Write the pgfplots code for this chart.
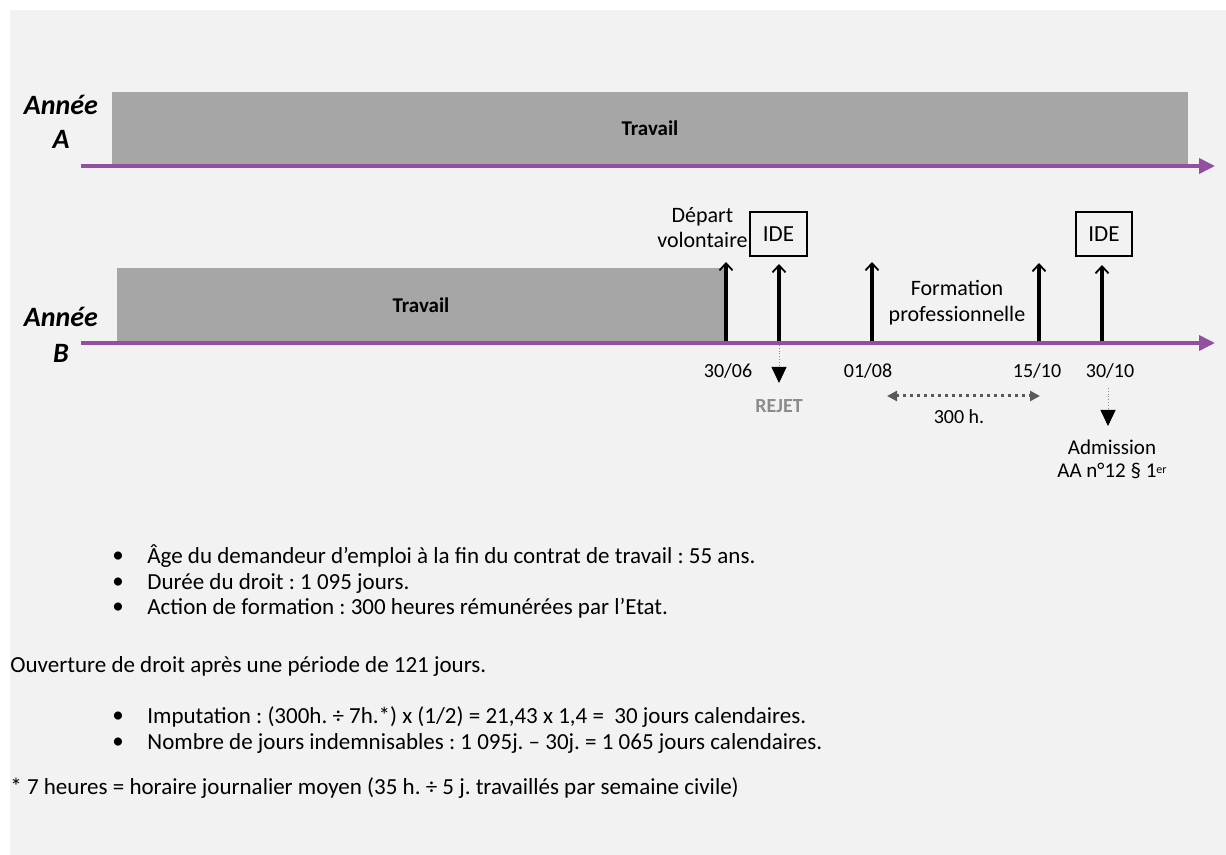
\documentclass[border=0pt]{standalone}
\usepackage{fontspec}
\setmainfont{Carlito}
\usepackage{pgfplots}
\pgfplotsset{compat=1.18}
\usetikzlibrary{arrows.meta}
\definecolor{fond}{HTML}{F2F2F2}
\definecolor{barre}{HTML}{A6A6A6}
\definecolor{violet}{HTML}{9150A0}
\definecolor{grisf}{HTML}{595959}
\definecolor{grisr}{HTML}{8C8C8C}
\frenchspacing

\begin{document}
\begin{tikzpicture}
\begin{axis}[
    width=613pt, height=427.5pt, scale only axis,
    xmin=0, xmax=1226, ymin=0, ymax=855, y dir=reverse,
    hide axis, clip=false,
    every node/.append style={font=\fontsize{11}{13}\selectfont},
]
% fond
\addplot[draw=none, fill=white] coordinates {(0,0) (1226,0) (1226,855) (0,855)} --cycle;
\addplot[draw=none, fill=fond] coordinates {(10,10) (1226,10) (1226,855) (10,855)} --cycle;

% barres "Travail"
\addplot[draw=none, fill=barre] coordinates {(112,92) (1188,92) (1188,164) (112,164)} --cycle;
\addplot[draw=none, fill=barre] coordinates {(117,268) (725,268) (725,341) (117,341)} --cycle;

% axes du temps
\addplot[violet, line width=1.8pt, -{Triangle[length=8pt,width=7.5pt]}] coordinates {(81,166) (1215,166)};
\addplot[violet, line width=1.8pt, -{Triangle[length=8pt,width=7.5pt]}] coordinates {(81,343) (1215,343)};

% fleches montantes
\addplot[black, line width=1.6pt, -{Straight Barb[length=3.5pt,width=6.5pt,line width=0.9pt]}] coordinates {(726,341) (726,262)};
\addplot[black, line width=1.6pt, -{Straight Barb[length=3.5pt,width=6.5pt,line width=0.9pt]}] coordinates {(779,341) (779,264)};
\addplot[black, line width=1.6pt, -{Straight Barb[length=3.5pt,width=6.5pt,line width=0.9pt]}] coordinates {(872,341) (872,262)};
\addplot[black, line width=1.6pt, -{Straight Barb[length=3.5pt,width=6.5pt,line width=0.9pt]}] coordinates {(1039,341) (1039,263)};
\addplot[black, line width=1.6pt, -{Straight Barb[length=3.5pt,width=6.5pt,line width=0.9pt]}] coordinates {(1102,341) (1102,265)};

% fleches descendantes
\addplot[grisr, line width=0.4pt, densely dotted, -{Triangle[length=8pt,width=7.5pt,color=black]}] coordinates {(779,345) (779,383)};
\addplot[grisr, line width=0.4pt, densely dotted, -{Triangle[length=8pt,width=7.5pt,color=black]}] coordinates {(1108,388) (1108,426)};

% 300 h.
\addplot[grisf, line width=1.5pt, dotted, {Triangle[length=5pt,width=5pt]}-{Triangle[length=5pt,width=5pt]}] coordinates {(887,396) (1040,396)};

% textes
\node[font=\fontsize{14}{17}\selectfont\bfseries\itshape, align=center] at (axis cs:61,122) {Année\\A};
\node[font=\fontsize{14}{18}\selectfont\bfseries\itshape, align=center] at (axis cs:61,335) {Année\\B};
\node[font=\fontsize{10.5}{12}\selectfont\bfseries] at (axis cs:650,128) {Travail};
\node[font=\fontsize{10.5}{12}\selectfont\bfseries] at (axis cs:421,305) {Travail};

\node[align=center, anchor=east, inner sep=0pt, font=\fontsize{11}{12.5}\selectfont] at (axis cs:748,228) {Départ\\volontaire};
\node[draw, line width=0.8pt, minimum width=28.5pt, minimum height=22pt, inner sep=0pt, font=\fontsize{11.5}{13}\selectfont] at (axis cs:778.5,234) {IDE};
\node[draw, line width=0.8pt, minimum width=28pt, minimum height=22pt, inner sep=0pt, font=\fontsize{11.5}{13}\selectfont] at (axis cs:1104,234) {IDE};
\node[align=center, font=\fontsize{11}{13}\selectfont] at (axis cs:957,303) {Formation\\professionnelle};

\node at (axis cs:728,371) {30/06};
\node at (axis cs:868,371) {01/08};
\node at (axis cs:1037,371) {15/10};
\node at (axis cs:1110,371) {30/10};
\node[font=\fontsize{10}{12}\selectfont\bfseries, text=grisr] at (axis cs:779,406) {REJET};
\node at (axis cs:959,417) {300 h.};
\node[align=center, font=\fontsize{10.5}{11.5}\selectfont] at (axis cs:1112,459) {Admission\\AA n°12 § 1{\fontsize{6}{6}\selectfont\raisebox{0.6ex}{er}}};

% liste
\begin{scope}[every node/.append style={font=\fontsize{11.5}{13}\selectfont}]
\node at (axis cs:118,557) {\textbullet};
\node[anchor=base west, inner sep=0pt] at (axis cs:147,563) {Âge du demandeur d’emploi à la fin du contrat de travail : 55 ans.};
\node at (axis cs:118,583) {\textbullet};
\node[anchor=base west, inner sep=0pt] at (axis cs:147,589) {Durée du droit : 1 095 jours.};
\node at (axis cs:118,608) {\textbullet};
\node[anchor=base west, inner sep=0pt] at (axis cs:147,614) {Action de formation : 300 heures rémunérées par l’Etat.};

\node[anchor=base west, inner sep=0pt] at (axis cs:10,672) {Ouverture de droit après une période de 121 jours.};

\node at (axis cs:118,717) {\textbullet};
\node[anchor=base west, inner sep=0pt] at (axis cs:147,723) {Imputation : (300h. ÷ 7h.*) x (1/2) = 21,43 x 1,4 =~~30 jours calendaires.};
\node at (axis cs:118,743) {\textbullet};
\node[anchor=base west, inner sep=0pt] at (axis cs:147,749) {Nombre de jours indemnisables : 1 095j. – 30j. = 1 065 jours calendaires.};

\node[anchor=base west, inner sep=0pt] at (axis cs:10,794) {* 7 heures = horaire journalier moyen (35 h. ÷ 5 j. travaillés par semaine civile)};
\end{scope}
\end{axis}
\end{tikzpicture}
\end{document}
